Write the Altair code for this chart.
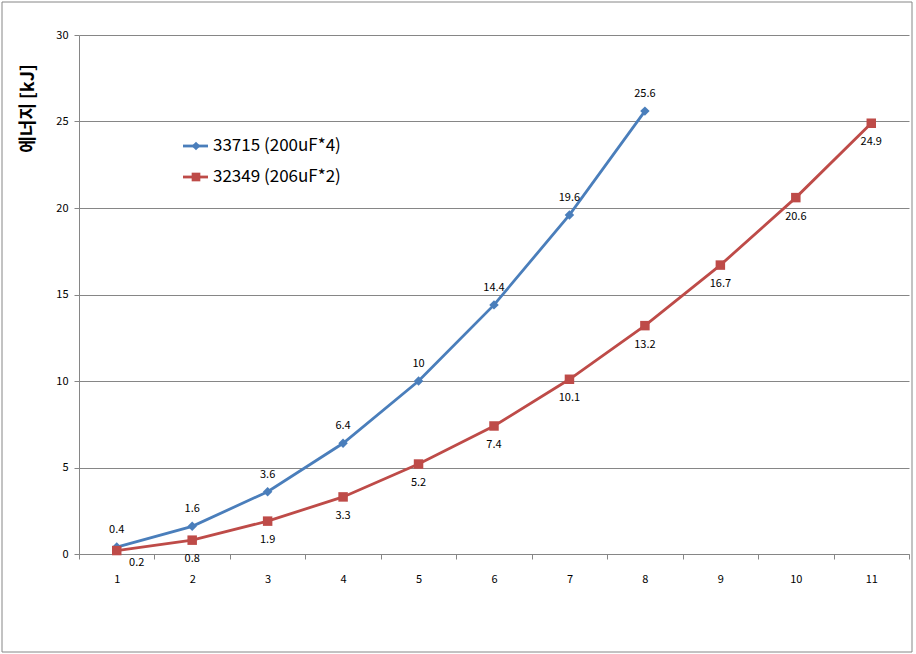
import altair as alt
import pandas as pd

categories = list(range(1, 12))
series_names = ["33715 (200uF*4)", "32349 (206uF*2)"]
blue_values = [0.4, 1.6, 3.6, 6.4, 10, 14.4, 19.6, 25.6]
red_values = [0.2, 0.8, 1.9, 3.3, 5.2, 7.4, 10.1, 13.2, 16.7, 20.6, 24.9]
y_ticks = [0, 5, 10, 15, 20, 25, 30]
y_title = "에너지 [kJ]"

colors = ["#4A7EBB", "#BE4B48"]
shapes = ["diamond", "square"]
FONT = "Noto Sans CJK KR"
GRAY = "#868686"

rows = []
for s, vals in zip(series_names, [blue_values, red_values]):
    for i, v in enumerate(vals):
        rows.append({"series": s, "x": categories[i], "value": v,
                     "label": f"{v:g}", "idx": i})
df = pd.DataFrame(rows)

x_enc = alt.X("x:O",
              scale=alt.Scale(type="band", domain=categories, paddingInner=0, paddingOuter=0),
              axis=alt.Axis(tickBand="extent", labelAngle=0, title=None, tickSize=5,
                            labelPadding=14, labelFontSize=11))
y_enc = alt.Y("value:Q",
              scale=alt.Scale(domain=[0, 30], nice=False, zero=True),
              axis=alt.Axis(values=y_ticks, grid=True, tickSize=5, labelPadding=6,
                            labelFontSize=11, title=y_title, titleFontSize=18,
                            titleFontWeight="bold", titleX=-51, titleY=73,
                            titleAngle=-90, titleBaseline="middle", titleAlign="center"))
color_enc = alt.Color("series:N", scale=alt.Scale(domain=series_names, range=colors), legend=None)
shape_enc = alt.Shape("series:N", scale=alt.Scale(domain=series_names, range=shapes), legend=None)

base = alt.Chart(df)
lines = base.mark_line(strokeWidth=2.8).encode(x=x_enc, y=y_enc, color=color_enc, detail="series:N")
points = base.mark_point(filled=True, size=90, opacity=1).encode(
    x="x:O", y="value:Q", color=color_enc, shape=shape_enc)

label_style = dict(font=FONT, fontSize=11, color="#000000")
blue_labels = base.transform_filter(alt.datum.series == series_names[0]).mark_text(
    dy=-17, **label_style).encode(x="x:O", y="value:Q", text="label:N")
red_labels = base.transform_filter(
    (alt.datum.series == series_names[1]) & (alt.datum.idx > 0)).mark_text(
    dy=19, **label_style).encode(x="x:O", y="value:Q", text="label:N")
red_first = base.transform_filter(
    (alt.datum.series == series_names[1]) & (alt.datum.idx == 0)).mark_text(
    dx=20, dy=12, **label_style).encode(x="x:O", y="value:Q", text="label:N")

legend_layers = []
for k, s in enumerate(series_names):
    ldf = pd.DataFrame({"series": [s]})
    yv = 111 + 31 * k
    lc = alt.Chart(ldf)
    legend_layers.append(lc.mark_rule(strokeWidth=2.8, color=colors[k]).encode(
        x=alt.value(104), x2=alt.value(129), y=alt.value(yv)))
    legend_layers.append(lc.mark_point(filled=True, size=75, opacity=1, color=colors[k],
                                       shape=shapes[k]).encode(
        x=alt.value(117), y=alt.value(yv)))
    legend_layers.append(lc.mark_text(align="left", baseline="middle", font=FONT,
                                      fontSize=17, color="#000000").encode(
        x=alt.value(134), y=alt.value(yv), text="series:N"))

border = alt.Chart(pd.DataFrame({"b": [0]})).mark_rect(
    fill="transparent", stroke=GRAY, strokeWidth=1).encode(
    x=alt.value(-77), x2=alt.value(833), y=alt.value(-33), y2=alt.value(617))

chart = alt.layer(border, lines, points, blue_labels, red_labels, red_first,
                  *legend_layers).properties(
    width=830, height=519,
    padding={"left": 79, "top": 35, "right": 7, "bottom": 100},
    autosize=alt.AutoSizeParams(type="none"),
    background="white",
).configure_view(stroke=None).configure_axis(
    domainColor=GRAY, tickColor=GRAY, gridColor=GRAY, gridWidth=1,
    labelColor="#000000", titleColor="#000000", labelFont=FONT, titleFont=FONT,
)

chart.save("out.html", embed_options={"renderer": "svg", "actions": False})
